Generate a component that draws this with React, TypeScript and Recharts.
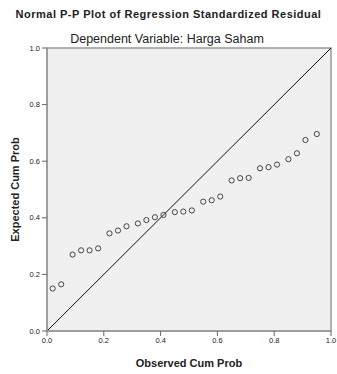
import {ReferenceArea, ReferenceLine, Scatter, ScatterChart, XAxis, YAxis} from "recharts";

// observed vs expected cumulative probability
const observedCumProb = [
    0.02, 0.05, 0.09, 0.12, 0.15, 0.18, 0.22, 0.25, 0.28, 0.32,
    0.35, 0.38, 0.41, 0.45, 0.48, 0.51, 0.55, 0.58, 0.61, 0.65,
    0.68, 0.71, 0.75, 0.78, 0.81, 0.85, 0.88, 0.91, 0.95,
];
const expectedCumProb = [
    0.15, 0.165, 0.27, 0.285, 0.285, 0.292, 0.345, 0.355, 0.37, 0.38,
    0.392, 0.402, 0.41, 0.42, 0.422, 0.426, 0.457, 0.462, 0.475, 0.532,
    0.54, 0.541, 0.575, 0.579, 0.588, 0.607, 0.628, 0.675, 0.696,
];
const axisTicks = [0, 0.2, 0.4, 0.6, 0.8, 1.0];

const points = observedCumProb.map((x, i) => ({x: x, y: expectedCumProb[i]}));

const font = '"Liberation Sans", Arial, sans-serif';

const HollowDot = (props: any) => {
    return <circle cx={props.cx} cy={props.cy} r={2.6} fill="none" stroke="#333" strokeWidth={0.9}/>;
}

export default function App() {
    const tickStyle = {fontSize: 7.5, fill: '#222', fontFamily: font};
    const axisTitle = {fontSize: 11, fontWeight: 'bold', fill: '#222', fontFamily: font};
    return (
        <div style={{position: 'absolute', left: 0, top: 0, width: 337, height: 374, background: '#fff', fontFamily: font}}>
            <div style={{position: 'absolute', left: 0, width: 337, top: 8, textAlign: 'center', fontSize: 11, fontWeight: 'bold', letterSpacing: 0.5, color: '#222'}}>
                Normal P-P Plot of Regression Standardized Residual
            </div>
            <div style={{position: 'absolute', left: 0, width: 334, top: 32, textAlign: 'center', fontSize: 12.5, color: '#222'}}>
                Dependent Variable: Harga Saham
            </div>
            <ScatterChart width={337} height={374} margin={{top: 48, right: 6, bottom: 0, left: 0}}>
                <XAxis type="number" dataKey="x" domain={[0, 1]} ticks={axisTicks} height={43}
                       tickFormatter={(v: number) => v.toFixed(1)} tick={tickStyle} tickSize={5}
                       axisLine={{stroke: '#999', strokeWidth: 1.5}} tickLine={{stroke: '#666'}}
                       allowDataOverflow
                       label={{value: 'Observed Cum Prob', position: 'insideBottom', offset: 7, style: axisTitle}}/>
                <YAxis type="number" dataKey="y" domain={[0, 1]} ticks={axisTicks} width={47}
                       tickFormatter={(v: number) => v.toFixed(1)} tick={tickStyle} tickSize={5}
                       axisLine={{stroke: '#999', strokeWidth: 1.5}} tickLine={{stroke: '#666'}}
                       allowDataOverflow
                       label={{value: 'Expected Cum Prob', angle: -90, position: 'insideLeft', offset: 15,
                           style: {...axisTitle, textAnchor: 'middle'}}}/>
                <ReferenceArea x1={0} x2={1} y1={0} y2={1} fill="#f0f0f0" fillOpacity={1} stroke="#999" strokeWidth={1.5}/>
                <ReferenceLine segment={[{x: 0, y: 0}, {x: 1, y: 1}]} stroke="#111" strokeWidth={1}/>
                <Scatter data={points} shape={HollowDot} isAnimationActive={false}/>
            </ScatterChart>
        </div>
    );
}
